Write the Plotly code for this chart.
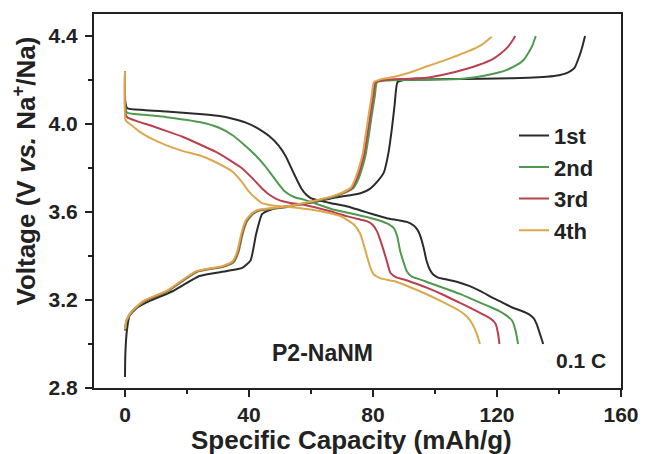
import plotly.graph_objects as go

# ---------------- data ----------------
cycles = ["1st", "2nd", "3rd", "4th"]
colors = ["#2b2b2b", "#4f9a4f", "#b8404f", "#dba84e"]

# charge curves (capacity mAh/g, voltage V)
charge_1_x = [0, 0.1, 0.6, 1.5, 4, 8, 15.5, 24, 32.5, 37.8, 40.5, 42.3, 44.2, 46, 48.4, 55, 62, 67.5, 72, 76, 79, 81.5,
              83.5, 85, 86.1, 87, 87.9, 90, 100, 110, 120, 130, 136, 140, 143, 145, 146.6, 147.5, 148.4]
charge_1_y = [2.85, 2.95, 3.06, 3.13, 3.166, 3.196, 3.241, 3.309, 3.331, 3.346, 3.38, 3.50, 3.59, 3.605, 3.617, 3.632,
              3.648, 3.665, 3.675, 3.685, 3.705, 3.74, 3.78, 3.87, 3.98, 4.09, 4.19, 4.200, 4.203, 4.205, 4.207, 4.21,
              4.215, 4.222, 4.235, 4.255, 4.31, 4.35, 4.40]

charge_2_x = [0, 0.5, 2.4, 6.2, 13.6, 23.3, 31.8, 35.1, 36.6, 37.9, 39.3, 41.4, 43.5, 52, 62.5, 67.5, 71.3, 73.6, 74.8,
              76, 77.6, 79.7, 80.6, 81.3, 85, 95, 107.9, 113, 118.5, 123, 126, 128.5, 130.2, 131.5, 132.5]
charge_2_y = [3.06, 3.105, 3.148, 3.193, 3.238, 3.328, 3.351, 3.373, 3.417, 3.497, 3.557, 3.592, 3.607, 3.622, 3.652,
              3.669, 3.69, 3.708, 3.735, 3.778, 3.858, 4.048, 4.128, 4.19, 4.198, 4.201, 4.204, 4.212, 4.227, 4.245,
              4.265, 4.29, 4.325, 4.36, 4.40]

charge_3_x = [0, 0.5, 2.3, 6.1, 13.5, 23.1, 31.6, 34.9, 36.4, 37.7, 39.1, 41.2, 43.3, 51.8, 62.3, 67.2, 71, 73.2, 74.3,
              75.5, 77.1, 79.2, 80.1, 80.8, 84, 90, 97.3, 104, 110, 114, 118.5, 121, 123.3, 124.8, 125.9]
charge_3_y = [3.064, 3.108, 3.15, 3.195, 3.24, 3.33, 3.353, 3.375, 3.419, 3.499, 3.559, 3.594, 3.609, 3.624, 3.654,
              3.671, 3.691, 3.709, 3.737, 3.78, 3.86, 4.05, 4.13, 4.19, 4.2, 4.205, 4.21, 4.228, 4.25, 4.268, 4.294,
              4.318, 4.347, 4.375, 4.40]

charge_4_x = [0, 0.5, 2.3, 6, 13.4, 23, 31.4, 34.7, 36.2, 37.5, 38.9, 41, 43.1, 51.6, 62.2, 67, 70.7, 72.8, 73.9, 75,
              76.6, 78.7, 79.6, 80.3, 83, 87, 91.9, 97, 102.6, 107, 111, 115, 118.3]
charge_4_y = [3.068, 3.11, 3.151, 3.196, 3.241, 3.331, 3.354, 3.376, 3.42, 3.50, 3.56, 3.595, 3.61, 3.625, 3.655,
              3.672, 3.692, 3.71, 3.738, 3.78, 3.86, 4.05, 4.13, 4.19, 4.205, 4.215, 4.234, 4.26, 4.287, 4.31, 4.332,
              4.36, 4.397]

# discharge curves
discharge_1_x = [0, 0.1, 0.7, 6, 13.4, 24, 30, 34.7, 39, 43.1, 46.5, 49.5, 51.8, 53.7, 55.5, 56.9, 58.5, 60.1, 66.5,
                 71.8, 76, 80, 84.5, 88, 90.9, 93, 94.2, 95.1, 96.3, 97.3, 98.4, 99.4, 101, 103.6, 107, 111, 115,
                 118.5, 121.5, 124.9, 128, 130.2, 131.8, 132.8, 134, 134.9]
discharge_1_y = [4.24, 4.10, 4.072, 4.064, 4.057, 4.046, 4.037, 4.024, 4.006, 3.978, 3.945, 3.903, 3.855, 3.798,
                 3.745, 3.707, 3.678, 3.662, 3.64, 3.625, 3.607, 3.59, 3.572, 3.563, 3.555, 3.54, 3.522, 3.497, 3.44,
                 3.377, 3.336, 3.316, 3.302, 3.294, 3.283, 3.264, 3.238, 3.211, 3.19, 3.166, 3.15, 3.136, 3.118,
                 3.09, 3.04, 3.0]

discharge_2_x = [0, 0.1, 0.7, 6, 13.4, 24, 30, 34.7, 38.5, 42.1, 45, 47.4, 49.5, 51.6, 54.5, 58, 66.5, 71.8, 76.5,
                 81.3, 84.5, 86.7, 87.8, 88.8, 89.9, 90.9, 92.5, 95.1, 98.5, 102.6, 108, 113.2, 117, 120.6, 123,
                 124.9, 126, 126.8]
discharge_2_y = [4.24, 4.08, 4.051, 4.042, 4.031, 4.009, 3.985, 3.949, 3.905, 3.858, 3.812, 3.768, 3.728, 3.693,
                 3.668, 3.655, 3.614, 3.597, 3.582, 3.565, 3.548, 3.527, 3.49, 3.42, 3.37, 3.331, 3.306, 3.294,
                 3.276, 3.256, 3.228, 3.196, 3.173, 3.151, 3.13, 3.106, 3.06, 3.0]

discharge_3_x = [0, 0.1, 0.7, 4, 8.1, 13, 18.7, 24, 29.3, 33.5, 37.8, 41, 44.2, 46.8, 49.5, 53, 58, 66.5, 71.8, 76,
                 78.2, 80, 81.3, 82.4, 83.5, 84.6, 85.6, 87.5, 89.8, 93.5, 97.3, 102.6, 107.9, 112, 116.4, 118.4,
                 119.6, 120.3, 120.8]
discharge_3_y = [4.24, 4.05, 4.031, 4.012, 3.994, 3.97, 3.941, 3.908, 3.873, 3.838, 3.798, 3.755, 3.707, 3.676,
                 3.655, 3.642, 3.632, 3.602, 3.58, 3.565, 3.557, 3.54, 3.512, 3.47, 3.422, 3.37, 3.324, 3.303, 3.294,
                 3.276, 3.256, 3.224, 3.188, 3.16, 3.128, 3.11, 3.09, 3.05, 3.0]

discharge_4_x = [0, 0.1, 0.7, 2.5, 4.9, 9, 13.4, 18.5, 24, 29.5, 34.7, 37.5, 40, 42.2, 44.2, 47.5, 51.6, 56, 61.2,
                 66.5, 70, 73.9, 75, 76, 77.1, 78.2, 79.2, 80.3, 82.5, 86.7, 92, 97.3, 102.6, 107.9, 110.3, 112.1,
                 113.5, 114.5]
discharge_4_y = [4.24, 4.02, 4.009, 3.99, 3.963, 3.93, 3.903, 3.878, 3.858, 3.825, 3.783, 3.74, 3.693, 3.662, 3.64,
                 3.63, 3.625, 3.618, 3.608, 3.593, 3.578, 3.542, 3.522, 3.497, 3.447, 3.392, 3.345, 3.316, 3.298,
                 3.286, 3.258, 3.226, 3.19, 3.151, 3.125, 3.09, 3.045, 3.0]

x_ticks = [0, 40, 80, 120, 160]
y_ticks = [2.8, 3.2, 3.6, 4.0, 4.4]

charges = [(charge_1_x, charge_1_y), (charge_2_x, charge_2_y), (charge_3_x, charge_3_y), (charge_4_x, charge_4_y)]
discharges = [(discharge_1_x, discharge_1_y), (discharge_2_x, discharge_2_y),
              (discharge_3_x, discharge_3_y), (discharge_4_x, discharge_4_y)]

FONT = "Liberation Sans, Arial, sans-serif"

fig = go.Figure()
for i, name in enumerate(cycles):
    cx, cy = charges[i]
    dx, dy = discharges[i]
    fig.add_trace(go.Scatter(x=cx, y=cy, mode="lines", name=name, legendgroup=name,
                             line=dict(color=colors[i], width=2, shape="spline", smoothing=0.5),
                             showlegend=True))
    fig.add_trace(go.Scatter(x=dx, y=dy, mode="lines", name=name, legendgroup=name,
                             line=dict(color=colors[i], width=2, shape="spline", smoothing=0.5),
                             showlegend=False))

axis_common = dict(showline=True, linecolor="#222", linewidth=2, mirror=True, ticks="outside",
                   tickcolor="#222", tickwidth=2, ticklen=7, showgrid=False, zeroline=False,
                   tickfont=dict(family=FONT, size=21, color="#222", weight="bold"))

fig.update_xaxes(range=[-10, 160], tickvals=x_ticks, ticktext=[str(v) for v in x_ticks],
                 minor=dict(tickvals=[20, 60, 100, 140], ticks="outside", ticklen=4, tickwidth=2, tickcolor="#222"),
                 **axis_common)
fig.update_yaxes(range=[2.8, 4.5], tickvals=y_ticks, ticktext=[f"{v:.1f}" for v in y_ticks],
                 minor=dict(tickvals=[3.0, 3.4, 3.8, 4.2], ticks="outside", ticklen=4, tickwidth=2, tickcolor="#222"),
                 ticklabelstandoff=3, **axis_common)

fig.add_annotation(text="<b>Specific Capacity (mAh/g)</b>", xref="paper", yref="paper", x=0.488, y=-0.14,
                   xanchor="center", yanchor="middle", showarrow=False,
                   font=dict(family=FONT, size=26, color="#222"))
fig.add_annotation(text="<b>Voltage (V <i>vs.</i> Na<sup>+</sup>/Na)</b>", xref="paper", yref="paper",
                   x=-0.132, y=0.58, xanchor="center", yanchor="middle", textangle=-90, showarrow=False,
                   font=dict(family=FONT, size=26, color="#222"))
fig.add_annotation(text="<b>P2-NaNM</b>", x=63.7, y=2.959, xref="x", yref="y", showarrow=False,
                   font=dict(family=FONT, size=23, color="#222"))
fig.add_annotation(text="<b>0.1 C</b>", x=147.2, y=2.923, xref="x", yref="y", showarrow=False,
                   font=dict(family=FONT, size=21, color="#222"))

fig.update_layout(
    width=651, height=454,
    margin=dict(l=94, r=24, t=12, b=66),
    paper_bgcolor="white", plot_bgcolor="white",
    legend=dict(x=0.797, y=0.731, xanchor="left", yanchor="top", bgcolor="rgba(0,0,0,0)",
                traceorder="grouped", tracegroupgap=0,
                font=dict(family=FONT, size=22, color="#222", weight="bold")),
    showlegend=True,
)

fig.write_html("out.html")
